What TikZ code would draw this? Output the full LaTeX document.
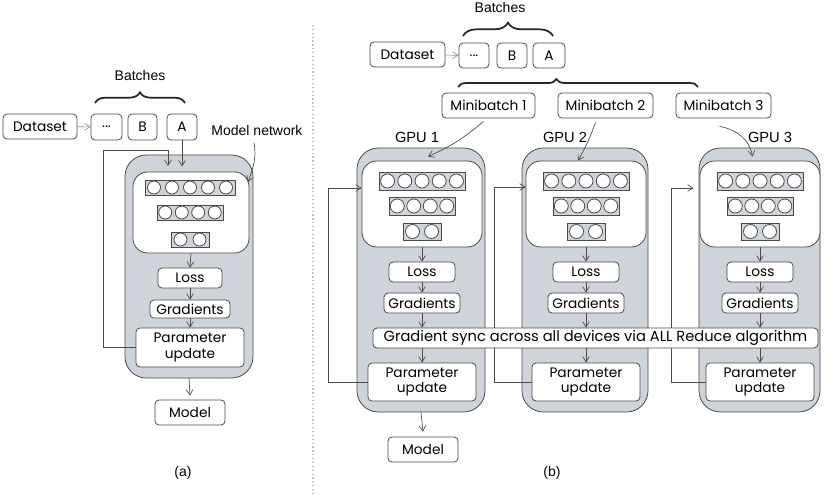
\documentclass[tikz,border=0pt]{standalone}
\usepackage{fontspec}
\setmainfont{Liberation Sans}
\newfontfamily\handfont{Poppins}
\usetikzlibrary{arrows.meta,calc,decorations.pathreplacing}
\definecolor{panel}{HTML}{CED4DA}
\definecolor{ink}{HTML}{4A4A4A}
\definecolor{sepline}{HTML}{B4C0CC}

% box node given by its corners (x1,y1) (x2,y2) in pixel units
\newcommand\boxat[7]{\node[#1,minimum width={((#4)-(#2))*0.75pt},minimum height={((#5)-(#3))*0.75pt}] (#6) at ({((#2)+(#4))/2},{((#3)+(#5))/2}) {#7};}
% one layer of the network: frame plus n neurons
\newcommand\layerrow[6]{%
  \draw[layer] ({#1},{#2}) rectangle ({#3},{#4});
  \foreach \k in {1,...,#5}
    \draw[draw=ink, fill=white, line width=0.6pt] ({(#1)+((#3)-(#1))*(\k-0.5)/#5},{((#2)+(#4))/2}) circle[radius=#6];}

\tikzset{
  hb/.style={draw=ink, fill=white, rounded corners=3pt, line width=0.6pt,
    font=\handfont\fontsize{10.3}{11.5}\selectfont, inner sep=1pt, align=center},
  gpubox/.style={draw=ink, fill=panel, rounded corners=16pt, line width=0.6pt},
  netbox/.style={draw=ink, fill=white, rounded corners=11pt, line width=0.6pt},
  layer/.style={draw=ink, fill=panel, line width=0.6pt},
  arr/.style={draw=ink, line width=0.5pt, -{Straight Barb[length=4pt,width=5pt]}},
  lbl/.style={font=\fontsize{10.5}{12}\selectfont, text=black},
  brc/.style={decorate, decoration={brace, amplitude=#1}, line width=1.3pt, draw=black!85},
}

\begin{document}
\begin{tikzpicture}[x=0.75pt,y=-0.75pt]
\useasboundingbox (0,0) rectangle (827,496);
\fill[white] (0,0) rectangle (827,496);

% ---------------- (a) single device ----------------
\node[lbl] (batA) at (140,75) {Batches};
\draw[brc=8pt] (95,103) -- (185,103);
\boxat{hb}{3}{114}{77}{139}{dsA}{Dataset}
\boxat{hb}{91}{114}{122}{140}{dotA}{...}
\boxat{hb}{128}{114}{157}{140}{bbA}{B}
\boxat{hb}{167}{114}{197}{140}{baA}{A}
\draw[arr, draw=ink!60] (dsA) -- (dotA);

\boxat{gpubox}{125}{155}{253}{378}{outerA}{}
\boxat{netbox}{133}{172}{249}{253}{netA}{}
\layerrow{145}{180}{235}{195}{5}{6.5}
\layerrow{157}{205}{223}{220}{4}{6.5}
\layerrow{171}{232}{209}{247}{2}{6.5}
\boxat{hb}{158}{268}{222}{288}{lossA}{Loss}
\boxat{hb}{150}{300}{230}{318}{gradA}{Gradients}
\boxat{hb}{136}{328}{244}{367}{puA}{Parameter\\update}
\boxat{hb}{155}{400}{225}{425}{modA}{Model}

\draw[arr] (baA.south) -- ++(0,26);
\draw[arr] (puA.west) -| (103,150) -| (168,166);
\draw[arr] (netA.south) -- (lossA.north);
\draw[arr] (lossA.south) -- (gradA.north);
\draw[arr] (gradA.south) -- (puA.north);
\draw[arr] (outerA.south) -- ($(modA.north)+(0,-4)$);

\node[lbl] (mnA) at (257,130) {Model network};
\coordinate (mnTip) at (248,182);
\draw[arr] ($(mnA.south)+(-3,3)$) to[out=-80,in=70] (mnTip);

\node[lbl] (capA) at (183,473) {(a)};

% separator
\draw[sepline, dotted, line width=0.9pt] (313,25) -- (313,496);

% ---------------- (b) data parallel ----------------
\node[lbl] (batB) at (500,7) {Batches};
\draw[brc=10pt] (463,36) -- (553,36);
\boxat{hb}{370}{42}{445}{67}{dsB}{Dataset}
\boxat{hb}{459}{43}{489}{68}{dotB}{...}
\boxat{hb}{497}{43}{527}{68}{bbB}{B}
\boxat{hb}{533}{43}{565}{68}{baB}{A}
\draw[arr, draw=ink!60] (dsB) -- (dotB);
\draw[decorate, decoration={brace, amplitude=6pt, aspect=0.41}, line width=1.3pt, draw=black!85] (458,87) -- (698,87);

\boxat{hb}{442}{93}{535}{118}{mb1}{Minibatch 1}
\boxat{hb}{558}{93}{653}{118}{mb2}{Minibatch 2}
\boxat{hb}{676}{93}{771}{118}{mb3}{Minibatch 3}

\node[lbl, font=\fontsize{11}{12}\selectfont] (g1) at (417,137) {GPU 1};
\node[lbl, font=\fontsize{11}{12}\selectfont] (g2) at (565,137) {GPU 2};
\node[lbl, font=\fontsize{11}{12}\selectfont] (g3) at (770,137) {GPU 3};

\foreach \c/\xa/\xb/\n in {422/357/485/1, 586/522/648/2, 760/699/820/3} {
  \boxat{gpubox}{\xa}{148}{\xb}{412}{gpu\n}{}
  \boxat{netbox}{\c-60}{161}{\c+60}{247}{net\n}{}
  \layerrow{\c-43}{172}{\c+43}{190}{5}{7}
  \layerrow{\c-33}{197}{\c+33}{215}{4}{7}
  \layerrow{\c-19}{223}{\c+19}{240}{2}{7}
  \boxat{hb}{\c-33}{262}{\c+33}{282}{loss\n}{Loss}
  \boxat{hb}{\c-38}{293}{\c+38}{313}{grad\n}{Gradients}
  \boxat{hb}{\c-54}{363}{\c+54}{401}{pu\n}{Parameter\\update}
  \draw[arr] (net\n.south) -- (loss\n.north);
  \draw[arr] (loss\n.south) -- (grad\n.north);
}

% feedback from each parameter update back to its network
\draw[arr] (pu1.west) -- ++(-39,0) |- ($(net1.west)+(0,-16)$);
\draw[arr] (pu2.west) -- ++(-37,0) |- ($(net2.west)+(0,-17)$);
\draw[arr] (pu3.west) -- ++(-34,0) |- ($(gpu3.west)+(-5,-92)$);

% all-reduce bar lies on top of the feedback lines
\boxat{hb}{373}{328}{818}{348}{sync}{\fontsize{11}{12}\selectfont Gradient sync across all devices via ALL Reduce algorithm}
\foreach \n in {1,2,3} {
  \draw[arr] (grad\n.south) -- (grad\n.south |- sync.north);
  \draw[arr] (pu\n.north |- sync.south) -- (pu\n.north);
}

\draw[arr] ($(mb1.south)+(-5,3)$) to[bend left=8] ($(gpu1.north)+(7,9)$);
\draw[arr] ($(mb2.south)+(-10,4)$) to[bend left=5] ($(gpu2.north)+(-7,13)$);
\draw[arr] ($(mb3.south)+(-4,8)$) to[out=-10,in=100] ($(gpu3.north)+(-7,9)$);

\boxat{hb}{388}{437}{458}{462}{modB}{Model}
\draw[arr] (gpu1.south) -- ($(modB.north)+(0,-5)$);

\node[lbl] (capB) at (552,473) {(b)};
\end{tikzpicture}
\end{document}
